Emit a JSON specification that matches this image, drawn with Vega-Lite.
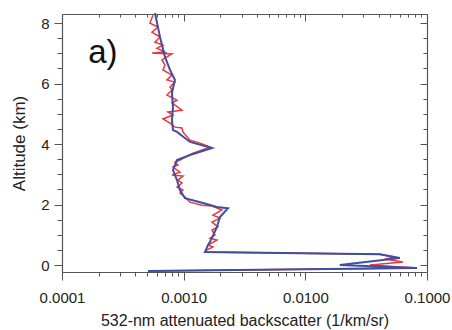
{
  "$schema": "https://vega.github.io/schema/vega-lite/v6.json",
  "width": 365,
  "height": 258,
  "autosize": "none",
  "padding": {"left": 62, "top": 14, "right": 25, "bottom": 58},
  "background": "white",
  "config": {"view": {"stroke": null}, "font": "Liberation Sans"},
  "datasets": {
    "red": [
      {"i": 1, "v": 0.000559, "alt": 8.26},
      {"i": 2, "v": 0.000528, "alt": 8.00},
      {"i": 3, "v": 0.000615, "alt": 7.87},
      {"i": 4, "v": 0.000549, "alt": 7.70},
      {"i": 5, "v": 0.000639, "alt": 7.54},
      {"i": 6, "v": 0.000581, "alt": 7.37},
      {"i": 7, "v": 0.000676, "alt": 7.27},
      {"i": 8, "v": 0.000603, "alt": 7.17},
      {"i": 9, "v": 0.000702, "alt": 7.04},
      {"i": 10, "v": 0.000549, "alt": 7.01},
      {"i": 11, "v": 0.000801, "alt": 6.98},
      {"i": 12, "v": 0.000663, "alt": 6.78},
      {"i": 13, "v": 0.000702, "alt": 6.61},
      {"i": 14, "v": 0.000676, "alt": 6.45},
      {"i": 15, "v": 0.000801, "alt": 6.28},
      {"i": 16, "v": 0.000729, "alt": 6.12},
      {"i": 17, "v": 0.000848, "alt": 6.05},
      {"i": 18, "v": 0.000772, "alt": 5.88},
      {"i": 19, "v": 0.000801, "alt": 5.79},
      {"i": 20, "v": 0.000729, "alt": 5.62},
      {"i": 21, "v": 0.000881, "alt": 5.45},
      {"i": 22, "v": 0.000801, "alt": 5.36},
      {"i": 23, "v": 0.000968, "alt": 5.12},
      {"i": 24, "v": 0.000743, "alt": 5.06},
      {"i": 25, "v": 0.000817, "alt": 4.96},
      {"i": 26, "v": 0.000676, "alt": 4.83},
      {"i": 27, "v": 0.000772, "alt": 4.69},
      {"i": 28, "v": 0.000848, "alt": 4.56},
      {"i": 29, "v": 0.000968, "alt": 4.53},
      {"i": 30, "v": 0.000987, "alt": 4.40},
      {"i": 31, "v": 0.001127, "alt": 4.13},
      {"i": 32, "v": 0.001361, "alt": 4.03},
      {"i": 33, "v": 0.001645, "alt": 3.90},
      {"i": 34, "v": 0.001192, "alt": 3.70},
      {"i": 35, "v": 0.000932, "alt": 3.47},
      {"i": 36, "v": 0.000848, "alt": 3.40},
      {"i": 37, "v": 0.000898, "alt": 3.31},
      {"i": 38, "v": 0.000817, "alt": 3.24},
      {"i": 39, "v": 0.000932, "alt": 3.07},
      {"i": 40, "v": 0.000801, "alt": 2.98},
      {"i": 41, "v": 0.000987, "alt": 2.94},
      {"i": 42, "v": 0.000898, "alt": 2.81},
      {"i": 43, "v": 0.000968, "alt": 2.71},
      {"i": 44, "v": 0.000881, "alt": 2.58},
      {"i": 45, "v": 0.000987, "alt": 2.48},
      {"i": 46, "v": 0.000932, "alt": 2.38},
      {"i": 47, "v": 0.001025, "alt": 2.25},
      {"i": 48, "v": 0.001127, "alt": 2.08},
      {"i": 49, "v": 0.001414, "alt": 1.98},
      {"i": 50, "v": 0.001708, "alt": 1.95},
      {"i": 51, "v": 0.002064, "alt": 1.82},
      {"i": 52, "v": 0.001741, "alt": 1.65},
      {"i": 53, "v": 0.001987, "alt": 1.55},
      {"i": 54, "v": 0.001708, "alt": 1.42},
      {"i": 55, "v": 0.001913, "alt": 1.26},
      {"i": 56, "v": 0.001708, "alt": 1.16},
      {"i": 57, "v": 0.001808, "alt": 0.99},
      {"i": 58, "v": 0.001645, "alt": 0.89},
      {"i": 59, "v": 0.001878, "alt": 0.83},
      {"i": 60, "v": 0.001584, "alt": 0.66},
      {"i": 61, "v": 0.001741, "alt": 0.60},
      {"i": 62, "v": 0.001554, "alt": 0.50},
      {"i": 63, "v": 0.001496, "alt": 0.43},
      {"i": 64, "v": 0.0410, "alt": 0.36},
      {"i": 65, "v": 0.0544, "alt": 0.26},
      {"i": 66, "v": 0.0451, "alt": 0.20},
      {"i": 67, "v": 0.0634, "alt": 0.10},
      {"i": 68, "v": 0.0340, "alt": 0.0},
      {"i": 69, "v": 0.0826, "alt": -0.10},
      {"i": 70, "v": 0.000509, "alt": -0.20}
    ],
    "blue": [
      {"i": 1, "v": 0.000581, "alt": 8.33},
      {"i": 2, "v": 0.000639, "alt": 7.54},
      {"i": 3, "v": 0.000702, "alt": 6.88},
      {"i": 4, "v": 0.000772, "alt": 6.45},
      {"i": 5, "v": 0.000848, "alt": 6.12},
      {"i": 6, "v": 0.000801, "alt": 5.69},
      {"i": 7, "v": 0.000817, "alt": 5.22},
      {"i": 8, "v": 0.000801, "alt": 4.79},
      {"i": 9, "v": 0.000817, "alt": 4.46},
      {"i": 10, "v": 0.000881, "alt": 4.40},
      {"i": 11, "v": 0.001127, "alt": 4.07},
      {"i": 12, "v": 0.001708, "alt": 3.87},
      {"i": 13, "v": 0.001127, "alt": 3.64},
      {"i": 14, "v": 0.000881, "alt": 3.47},
      {"i": 15, "v": 0.000817, "alt": 3.14},
      {"i": 16, "v": 0.000881, "alt": 2.81},
      {"i": 17, "v": 0.000932, "alt": 2.48},
      {"i": 18, "v": 0.001025, "alt": 2.21},
      {"i": 19, "v": 0.001441, "alt": 2.05},
      {"i": 20, "v": 0.001878, "alt": 1.92},
      {"i": 21, "v": 0.002312, "alt": 1.88},
      {"i": 22, "v": 0.001987, "alt": 1.59},
      {"i": 23, "v": 0.001878, "alt": 1.26},
      {"i": 24, "v": 0.001708, "alt": 0.89},
      {"i": 25, "v": 0.001584, "alt": 0.66},
      {"i": 26, "v": 0.001496, "alt": 0.43},
      {"i": 27, "v": 0.0410, "alt": 0.36},
      {"i": 28, "v": 0.0598, "alt": 0.23},
      {"i": 29, "v": 0.0435, "alt": 0.17},
      {"i": 30, "v": 0.0192, "alt": 0.0},
      {"i": 31, "v": 0.0826, "alt": -0.10},
      {"i": 32, "v": 0.000509, "alt": -0.20}
    ],
    "ann": [
      {"label": "a)", "v": 0.000164, "alt": 6.68}
    ]
  },
  "layer": [
    {
      "data": {"name": "red"},
      "mark": {"type": "line", "color": "#e8383d", "strokeWidth": 1.5},
      "encoding": {
        "x": {
          "field": "v", "type": "quantitative",
          "scale": {"type": "log", "domain": [0.0001, 0.1], "nice": false},
          "axis": {
            "orient": "bottom",
            "values": [0.0001,0.0002,0.0003,0.0004,0.0005,0.0006,0.0007,0.0008,0.0009,0.001,0.002,0.003,0.004,0.005,0.006,0.007,0.008,0.009,0.01,0.02,0.03,0.04,0.05,0.06,0.07,0.08,0.09,0.1],
            "labelExpr": "abs(log(datum.value)/LN10 - round(log(datum.value)/LN10)) < 0.01 ? format(datum.value, '.4f') : ''",
            "tickSize": {"condition": {"test": "abs(log(datum.value)/LN10 - round(log(datum.value)/LN10)) < 0.01", "value": 8}, "value": 4},
            "title": "532-nm attenuated backscatter (1/km/sr)",
            "titleFontSize": 16, "titleFontWeight": "normal", "titleColor": "#222",
            "labelFontSize": 15, "labelColor": "#222", "labelPadding": 10, "titlePadding": 7,
            "labelFlush": false, "labelOverlap": false, "grid": false,
            "domainColor": "#555", "tickColor": "#555", "domainWidth": 1.2
          }
        },
        "y": {
          "field": "alt", "type": "quantitative",
          "scale": {"domain": [-0.23, 8.3], "nice": false, "zero": false},
          "axis": {
            "orient": "left",
            "values": [0,0.5,1,1.5,2,2.5,3,3.5,4,4.5,5,5.5,6,6.5,7,7.5,8],
            "labelExpr": "datum.value % 2 === 0 ? format(datum.value, 'd') : ''",
            "tickSize": {"condition": {"test": "datum.value % 2 === 0", "value": 8}, "value": 5},
            "title": "Altitude (km)",
            "titleFontSize": 17, "titleFontWeight": "normal", "titleColor": "#222",
            "labelFontSize": 15, "labelColor": "#222", "labelPadding": 5, "titlePadding": 12,
            "labelFlush": false, "labelOverlap": false, "grid": false,
            "domainColor": "#555", "tickColor": "#555", "domainWidth": 1.2
          }
        },
        "order": {"field": "i", "type": "quantitative"}
      }
    },
    {
      "data": {"name": "blue"},
      "mark": {"type": "line", "color": "#3f4ea0", "strokeWidth": 2},
      "encoding": {
        "x": {
          "field": "v", "type": "quantitative",
          "scale": {"type": "log", "domain": [0.0001, 0.1], "nice": false},
          "axis": {
            "orient": "top",
            "values": [0.0001,0.0002,0.0003,0.0004,0.0005,0.0006,0.0007,0.0008,0.0009,0.001,0.002,0.003,0.004,0.005,0.006,0.007,0.008,0.009,0.01,0.02,0.03,0.04,0.05,0.06,0.07,0.08,0.09,0.1],
            "labels": false, "title": null, "grid": false,
            "tickSize": {"condition": {"test": "abs(log(datum.value)/LN10 - round(log(datum.value)/LN10)) < 0.01", "value": -7}, "value": -3},
            "domainColor": "#555", "tickColor": "#555", "domainWidth": 1.2
          }
        },
        "y": {
          "field": "alt", "type": "quantitative",
          "scale": {"domain": [-0.23, 8.3], "nice": false, "zero": false},
          "axis": {
            "orient": "right",
            "values": [0,0.5,1,1.5,2,2.5,3,3.5,4,4.5,5,5.5,6,6.5,7,7.5,8],
            "labels": false, "title": null, "grid": false,
            "tickSize": {"condition": {"test": "datum.value % 2 === 0", "value": -7}, "value": -4},
            "domainColor": "#555", "tickColor": "#555", "domainWidth": 1.2
          }
        },
        "order": {"field": "i", "type": "quantitative"}
      }
    },
    {
      "data": {"name": "ann"},
      "mark": {"type": "text", "fontSize": 33, "align": "left", "baseline": "alphabetic", "color": "#111"},
      "encoding": {
        "x": {"field": "v", "type": "quantitative", "scale": {"type": "log", "domain": [0.0001, 0.1], "nice": false}, "axis": null},
        "y": {"field": "alt", "type": "quantitative", "scale": {"domain": [-0.23, 8.3], "nice": false, "zero": false}, "axis": null},
        "text": {"field": "label"}
      }
    }
  ],
  "resolve": {"axis": {"x": "independent", "y": "independent"}}
}
